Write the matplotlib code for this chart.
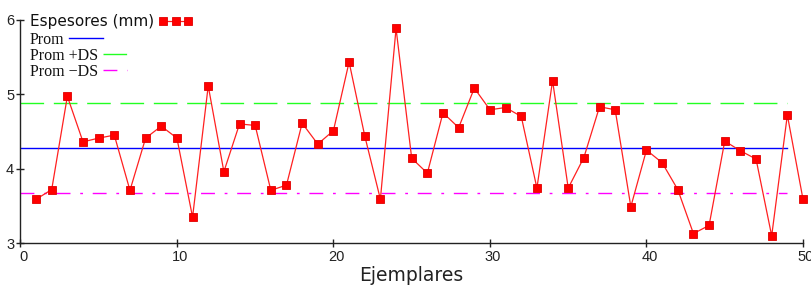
import numpy as np
import matplotlib
matplotlib.use("Agg")
import matplotlib.pyplot as plt
import matplotlib.transforms as mtransforms

# ---- data ----
ejemplares = list(range(1, 51))
espesores = [3.59, 3.72, 4.97, 4.36, 4.41, 4.45, 3.71, 4.41, 4.57, 4.41,
             3.35, 5.11, 3.96, 4.60, 4.58, 3.71, 3.78, 4.61, 4.33, 4.51,
             5.43, 4.44, 3.59, 5.88, 4.14, 3.94, 4.75, 4.55, 5.08, 4.79,
             4.82, 4.70, 3.74, 5.18, 3.74, 4.15, 4.83, 4.79, 3.49, 4.25,
             4.08, 3.72, 3.13, 3.24, 4.37, 4.24, 4.13, 3.10, 4.72, 3.59]
indices = list(range(0, 50))   # index range of the reference lines
prom = 4.277
ds = 0.603
x_ticks = [0, 10, 20, 30, 40, 50]
y_ticks = [3, 4, 5, 6]

W, H = 811, 291
fig = plt.figure(figsize=(W / 100, H / 100), dpi=100)
ax = fig.add_axes([20.4 / W, (H - 243.3) / H, (803 - 20.4) / W, (243.3 - 19.5) / H])

n = len(indices)
l_prom, = ax.plot(indices, [prom] * n, color="#0000ff", lw=1.0)
l_up, = ax.plot(indices, [prom + ds] * n, color="#22ff22", lw=1.0, dashes=(17, 7))
l_dn, = ax.plot(indices, [prom - ds] * n, color="#ff00ff", lw=1.0, dashes=(10, 7, 2, 7))
l_esp, = ax.plot(ejemplares, espesores, color="#ff2020", lw=0.9, marker="s",
                 markersize=6, markerfacecolor="#ff0000", markeredgecolor="#e00000",
                 markeredgewidth=0.6, clip_on=False, zorder=5)

ax.set_xlim(0, 50)
ax.set_ylim(3, 6)
ax.set_xticks(x_ticks)
ax.set_yticks(y_ticks)
for s in ("top", "right"):
    ax.spines[s].set_visible(False)
for s in ("left", "bottom"):
    ax.spines[s].set_color("#222222")
    ax.spines[s].set_linewidth(1.0)
ax.tick_params(direction="inout", length=6, width=1, color="#222222",
               labelsize=10.5, pad=1.5)
for lab in ax.get_xticklabels() + ax.get_yticklabels():
    lab.set_fontfamily("Liberation Sans")
    lab.set_color("#222222")
off = mtransforms.ScaledTranslation(3 / 100, 0, fig.dpi_scale_trans)
for lab in ax.get_xticklabels():
    lab.set_transform(lab.get_transform() + off)
ax.set_xlabel("Ejemplares", fontsize=13.5, family="DejaVu Sans", color="#222222", labelpad=2)

# ---- legend: one entry per row, text first, handle right after ----
serif = dict(family="Liberation Serif", size=11.5)
entries = [
    (l_esp, "Espesores (mm)", dict(family="DejaVu Sans", size=11), 21.5, 3, 2.2),
    (l_prom, "Prom", serif, 40, 1, 2.1),
    (l_up, "Prom +DS", serif, 56, 1, 1.5),
    (l_dn, "Prom \u2212DS", serif, 72, 1, 1.5),
]
legs = []
for handle, label, prop, yc, npts, hl in entries:
    leg = ax.legend([handle], [label], loc="center left",
                    bbox_to_anchor=(30 / W, 1 - yc / H),
                    bbox_transform=fig.transFigure, frameon=False,
                    markerfirst=False, numpoints=npts, prop=prop,
                    handlelength=hl, handletextpad=0.3,
                    borderpad=0, borderaxespad=0)
    for t in leg.get_texts():
        t.set_color("#111111")
    legs.append(leg)
for leg in legs[:-1]:
    ax.add_artist(leg)

fig.savefig("out.png", dpi=100)
